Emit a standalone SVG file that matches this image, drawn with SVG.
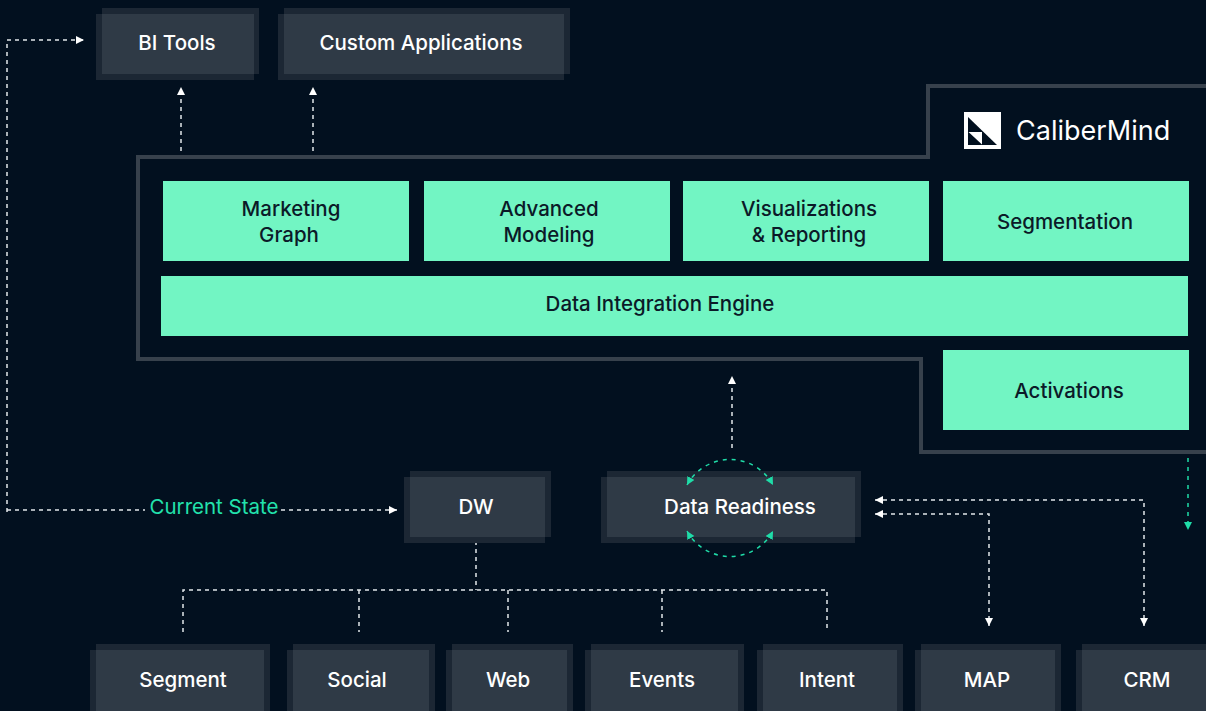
<svg xmlns="http://www.w3.org/2000/svg" width="1206" height="711" viewBox="0 0 1206 711">
<style>
.bg{fill:#02101f}
.fr{fill:#1c2734}
.ov{fill:#2f3a46}
.gb{fill:#72f5c3}
.wt{font-family:Inter,"Noto Sans",sans-serif;font-size:20.5px;font-weight:500;fill:#ffffff;text-anchor:middle}
.dt{font-family:Inter,"Noto Sans",sans-serif;font-size:20.5px;font-weight:500;fill:#0b1a28;text-anchor:middle}
.ln{fill:none;stroke:#e2e6ea;stroke-width:1.5;stroke-dasharray:4 4}
.gl{fill:none;stroke:#1fdca8;stroke-width:1.5;stroke-dasharray:4 5}
.outline{fill:none;stroke:#37414c;stroke-width:4}
</style>
<defs>
<marker id="aw" markerUnits="userSpaceOnUse" markerWidth="10" markerHeight="10" refX="8" refY="4" orient="auto-start-reverse"><path d="M0,0 L8,4 L0,8 Z" fill="#ffffff"/></marker>
<marker id="ag" markerUnits="userSpaceOnUse" markerWidth="10" markerHeight="10" refX="8" refY="4" orient="auto-start-reverse"><path d="M0,0 L8,4 L0,8 Z" fill="#1fdca8"/></marker>
</defs>
<rect class="bg" x="0" y="0" width="1206" height="711"/>

<g id="calibermind-frame">
<path class="outline" d="M1210,86 H928 V157 H138 V359 H921 V452 H1210"/>
<g id="logo">
<rect x="964" y="112" width="37" height="37" fill="#ffffff"/>
<path d="M968,117 L968,145 L997,145 Z" fill="#02101f"/>
<path d="M968.5,132 L982,132 L982,144.5 Z" fill="#ffffff"/>
</g>
<text x="1016" y="140" font-family="Inter,'Noto Sans',sans-serif" font-size="27" font-weight="400" fill="#ffffff">CaliberMind</text>
</g>

<g id="connectors">
<path class="ln" d="M7,512 V40 H84" marker-end="url(#aw)"/>
<path class="ln" d="M7,510 H145"/>
<path class="ln" d="M281,510 H397" marker-end="url(#aw)"/>
<path class="ln" d="M181,151 V87" marker-end="url(#aw)"/>
<path class="ln" d="M313,151 V87" marker-end="url(#aw)"/>
<path class="ln" d="M732,448 V376" marker-end="url(#aw)"/>
<path class="ln" d="M875,500 H1144 V626" marker-start="url(#aw)" marker-end="url(#aw)"/>
<path class="ln" d="M875,514 H989 V626" marker-start="url(#aw)" marker-end="url(#aw)"/>
<path class="ln" d="M476,541 V590 M183,632 V590 H827 V632 M359,590 V632 M508,590 V632 M662,590 V632"/>
<path class="gl" d="M1188,458 V530" marker-end="url(#ag)"/>
</g>

<g id="bi-tools">
<rect class="fr" x="102" y="8" width="157" height="66"/>
<rect class="fr" x="96" y="14" width="158" height="66"/>
<rect class="ov" x="102" y="14" width="152" height="60"/>
<text class="wt" x="177" y="50">BI Tools</text>
</g>
<g id="custom-applications">
<rect class="fr" x="284" y="8" width="286" height="66"/>
<rect class="fr" x="278" y="14" width="286" height="66"/>
<rect class="ov" x="284" y="14" width="280" height="60"/>
<text class="wt" x="421" y="50">Custom Applications</text>
</g>

<g id="marketing-graph">
<rect class="gb" x="163" y="181" width="246" height="80"/>
<text class="dt" x="291" y="216">Marketing</text>
<text class="dt" x="289" y="242">Graph</text>
</g>
<g id="advanced-modeling">
<rect class="gb" x="424" y="181" width="246" height="80"/>
<text class="dt" x="549" y="216">Advanced</text>
<text class="dt" x="549" y="242">Modeling</text>
</g>
<g id="visualizations-reporting">
<rect class="gb" x="683" y="181" width="246" height="80"/>
<text class="dt" x="809" y="216">Visualizations</text>
<text class="dt" x="809" y="242">&amp; Reporting</text>
</g>
<g id="segmentation">
<rect class="gb" x="943" y="181" width="246" height="80"/>
<text class="dt" x="1065" y="229">Segmentation</text>
</g>
<g id="data-integration-engine">
<rect class="gb" x="161" y="276" width="1027" height="60"/>
<text class="dt" x="660" y="311">Data Integration Engine</text>
</g>
<g id="activations">
<rect class="gb" x="943" y="350" width="246" height="80"/>
<text class="dt" x="1069" y="398">Activations</text>
</g>

<g id="dw">
<rect class="fr" x="410" y="471" width="141" height="66"/>
<rect class="fr" x="404" y="477" width="141" height="66"/>
<rect class="ov" x="410" y="477" width="135" height="60"/>
<text class="wt" x="476" y="514">DW</text>
</g>
<g id="data-readiness">
<rect class="fr" x="607" y="471" width="254" height="66"/>
<rect class="fr" x="601" y="477" width="254" height="66"/>
<rect class="ov" x="607" y="477" width="248" height="60"/>
<text class="wt" x="740" y="514">Data Readiness</text>
<path class="gl" d="M687,485 A49,49 0 0 1 773,485" marker-start="url(#ag)" marker-end="url(#ag)"/>
<path class="gl" d="M687,531 A49,49 0 0 0 773,531" marker-start="url(#ag)" marker-end="url(#ag)"/>
</g>

<text id="current-state" x="214" y="514" font-family="Inter,'Noto Sans',sans-serif" font-size="20.5" font-weight="400" fill="#22e2ad" text-anchor="middle">Current State</text>

<g id="segment">
<rect class="fr" x="96" y="644" width="174" height="80"/>
<rect class="fr" x="90" y="650" width="174" height="80"/>
<rect class="ov" x="96" y="650" width="168" height="80"/>
<text class="wt" x="183" y="687">Segment</text>
</g>
<g id="social">
<rect class="fr" x="293" y="644" width="142" height="80"/>
<rect class="fr" x="287" y="650" width="142" height="80"/>
<rect class="ov" x="293" y="650" width="136" height="80"/>
<text class="wt" x="357" y="687">Social</text>
</g>
<g id="web">
<rect class="fr" x="452" y="644" width="121" height="80"/>
<rect class="fr" x="446" y="650" width="121" height="80"/>
<rect class="ov" x="452" y="650" width="115" height="80"/>
<text class="wt" x="508" y="687">Web</text>
</g>
<g id="events">
<rect class="fr" x="591" y="644" width="153" height="80"/>
<rect class="fr" x="585" y="650" width="153" height="80"/>
<rect class="ov" x="591" y="650" width="147" height="80"/>
<text class="wt" x="662" y="687">Events</text>
</g>
<g id="intent">
<rect class="fr" x="763" y="644" width="140" height="80"/>
<rect class="fr" x="757" y="650" width="140" height="80"/>
<rect class="ov" x="763" y="650" width="134" height="80"/>
<text class="wt" x="827" y="687">Intent</text>
</g>
<g id="map">
<rect class="fr" x="921" y="644" width="140" height="80"/>
<rect class="fr" x="915" y="650" width="140" height="80"/>
<rect class="ov" x="921" y="650" width="134" height="80"/>
<text class="wt" x="987" y="687">MAP</text>
</g>
<g id="crm">
<rect class="fr" x="1082" y="644" width="133" height="80"/>
<rect class="fr" x="1076" y="650" width="133" height="80"/>
<rect class="ov" x="1082" y="650" width="127" height="80"/>
<text class="wt" x="1147" y="687">CRM</text>
</g>
</svg>
